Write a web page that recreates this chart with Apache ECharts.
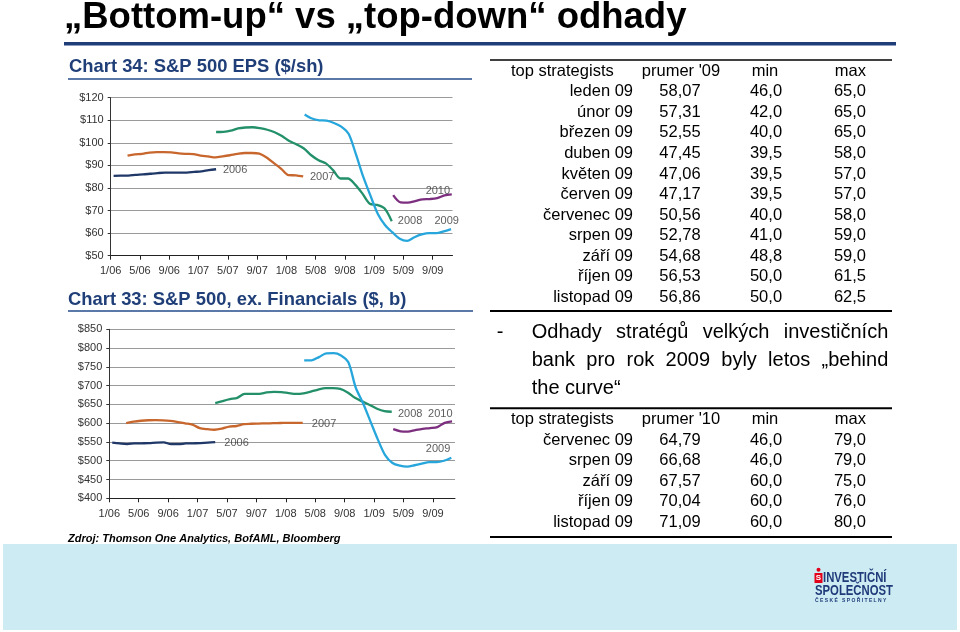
<!DOCTYPE html>
<html>
<head>
<meta charset="utf-8">
<script src="https://cdn.jsdelivr.net/npm/echarts@6/dist/echarts.min.js"></script>
<style>
html,body{margin:0;padding:0;background:#fff;}
#main{width:960px;height:632px;}
</style>
</head>
<body>
<div id="main"></div>
<script>
// ---------- DATA ----------
const tickLabels = ['1/06','5/06','9/06','1/07','5/07','9/07','1/08','5/08','9/08','1/09','5/09','9/09'];
const seriesYears = ['2006','2007','2008','2009','2010'];
// first month position (months since 1/06) of each series
const seriesStart = [0.4, 2.3, 14.4, 26.5, 38.6];

// Chart 34: S&P 500 EPS ($/sh) - monthly estimates
const eps2006 = [85.4,85.5,85.5,85.8,86.0,86.3,86.6,86.8,86.8,86.8,86.8,87.1,87.4,87.9,88.3];
const eps2007 = [94.3,94.9,95.1,95.7,95.9,95.9,95.8,95.3,95.1,95.0,94.3,94.0,93.6,94.0,94.5,95.1,95.5,95.5,95.2,93.5,91.0,88.5,85.7,85.6,85.1];
const eps2008 = [104.8,104.9,105.4,106.4,106.8,106.9,106.5,105.8,104.7,103.0,100.8,99.3,97.5,94.5,92.3,90.9,87.8,84.2,84.2,81.5,77.5,73.0,72.5,71.0,65.3];
const eps2009 = [112.6,110.8,110.0,109.8,108.8,107.2,104.0,95.0,85.0,76.5,68.5,63.5,60.3,57.5,56.6,58.2,59.4,60.0,60.0,60.8,61.8];
const eps2010 = [76.8,73.6,73.5,74.2,75.0,75.1,75.5,76.7,77.2];

// Chart 33: S&P 500 ex. Financials ($, b)
const exf2006 = [548,546,544.5,546,546.5,547,548.5,549,544,544,546,546.5,547,548,549.5];
const exf2007 = [600,604,606.5,607.8,608,607.5,606,603,599.5,596,587,584,582.5,585.5,591,592.5,597.5,598.5,599,599.5,600,600.5,601,601,601];
const exf2008 = [653.5,659,664,667.5,678,678.2,678.2,682,683.3,682.8,680,678,679.5,684,689.5,693.5,693.5,691.2,682,667.5,658,648.5,638.5,632,630.5];
const exf2009 = [767,767.5,776,786,786.5,780.5,762,695,653,605,557,515,494,487,484.6,488,492.5,496.4,496.4,500,508];
const exf2010 = [584,578.5,577.5,581.5,585,587,589.5,601,605];

// year label positions (month, value)
const label34X = [17.0, 28.9, 40.9, 45.9, 44.7];
const label34Y = [88.0, 84.9, 65.4, 65.4, 78.7];
const label33X = [17.3, 29.2, 40.9, 44.7, 45.0];
const label33Y = [547.3, 598, 625.3, 530.5, 625.3];

// Tables
const t1Header = ['top strategists', "prumer '09", 'min', 'max'];
const t1Rows = ['leden 09','únor 09','březen 09','duben 09','květen 09','červen 09','červenec 09','srpen 09','září 09','říjen 09','listopad 09'];
const t1Avg = [58.07,57.31,52.55,47.45,47.06,47.17,50.56,52.78,54.68,56.53,56.86];
const t1Min = [46.0,42.0,40.0,39.5,39.5,39.5,40.0,41.0,48.8,50.0,50.0];
const t1Max = [65.0,65.0,65.0,58.0,57.0,57.0,58.0,59.0,59.0,61.5,62.5];

const t2Header = ['top strategists', "prumer '10", 'min', 'max'];
const t2Rows = ['červenec 09','srpen 09','září 09','říjen 09','listopad 09'];
const t2Avg = [64.79,66.68,67.57,70.04,71.09];
const t2Min = [46.0,46.0,60.0,60.0,60.0];
const t2Max = [79.0,79.0,75.0,76.0,80.0];

const paraLines = [
  ['Odhady','stratégů','velkých','investičních'],
  ['bank','pro','rok','2009','byly','letos','„behind'],
  ['the curve“']
];

// ---------- RENDER ----------
const FF = '"Liberation Sans", Arial, Helvetica, sans-serif';
const colors = ['#1f3868', '#c8672d', '#23906a', '#27a6dc', '#7d2f7f'];
const chart = echarts.init(document.getElementById('main'), null, {renderer: 'canvas'});
const tickValues = tickLabels.map((_, i) => i * 4);
const fmtNum = (v, d) => v.toFixed(d).replace('.', ',');

function mkX(gi, max) {
  return {
    type: 'value', gridIndex: gi, min: 0, max: max,
    axisLine: {show: true, lineStyle: {color: '#222', width: 1}},
    axisTick: {show: true, length: 4, customValues: tickValues, lineStyle: {color: '#222'}},
    axisLabel: {customValues: tickValues, formatter: v => tickLabels[Math.round(v / 4)] || '',
      fontSize: 11, color: '#333', fontFamily: FF, margin: 10},
    splitLine: {show: false}
  };
}
function mkY(gi, min, max, interval) {
  return {
    type: 'value', gridIndex: gi, min, max, interval,
    axisLine: {show: true, lineStyle: {color: '#333', width: 1}},
    axisTick: {show: true, length: 3, lineStyle: {color: '#333'}},
    axisLabel: {formatter: v => '$' + v, fontSize: 11, color: '#333', fontFamily: FF, margin: 7},
    splitLine: {show: true, lineStyle: {color: '#9a9a9a', width: 1}}
  };
}
function lineSeries(gi, idx, vals) {
  return {
    type: 'line', xAxisIndex: gi, yAxisIndex: gi, name: seriesYears[idx] + '_' + gi,
    data: vals.map((v, i) => [seriesStart[idx] + i, v]),
    showSymbol: false, smooth: 0.3,
    lineStyle: {color: colors[idx], width: 2.3}, itemStyle: {color: colors[idx]},
    silent: true, z: 3
  };
}
function labelSeries(gi, xs, ys) {
  return {
    type: 'scatter', xAxisIndex: gi, yAxisIndex: gi, symbolSize: 0, silent: true, z: 5,
    data: seriesYears.map((n, i) => ({name: n, value: [xs[i], ys[i]]})),
    label: {show: true, position: 'inside', formatter: '{b}', fontSize: 11, color: '#333', fontFamily: FF}
  };
}

const G = [];
function txt(x, y, text, font, align, color, z, sx) {
  const el = {type: 'text', z: z || 10, style: {text, x, y, font, fill: color || '#000',
    align: align || 'left', textAlign: align || 'left', verticalAlign: 'middle', textVerticalAlign: 'middle'}};
  if (sx) { el.scaleX = sx; el.originX = x; el.originY = y; }
  G.push(el);
}
function rect(x, y, w, h, color, z) {
  G.push({type: 'rect', z: z || 5, shape: {x, y, width: w, height: h}, style: {fill: color}});
}

// background band
rect(3, 544, 954, 86, '#cdebf3', 1);
// main title
txt(64, 18, '„Bottom-up“ vs „top-down“ odhady', 'bold 36.5px ' + FF, 'left', '#000');
rect(64, 42, 832, 3.5, '#1f3d78');
// chart titles
txt(69, 67, 'Chart 34: S&P 500 EPS ($/sh)', 'bold 18.4px ' + FF, 'left', '#203f78');
rect(68, 78, 404, 2, '#5a79a8');
txt(68, 299.5, 'Chart 33: S&P 500, ex. Financials ($, b)', 'bold 18.4px ' + FF, 'left', '#203f78');
rect(68, 310, 405, 2, '#5a79a8');
// source
txt(68, 538.5, 'Zdroj: Thomson One Analytics, BofAML, Bloomberg', 'italic bold 11px ' + FF, 'left', '#000');

// tables
const tFont = '16.5px ' + FF;
function table(header, rows, avg, mn, mx, headerY, rowY0, step) {
  txt(511, headerY, header[0], tFont, 'left');
  txt(681, headerY, header[1], tFont, 'center');
  txt(765, headerY, header[2], tFont, 'center');
  txt(866, headerY, header[3], tFont, 'right');
  rows.forEach((r, i) => {
    const y = rowY0 + i * step;
    txt(633, y, r, tFont, 'right');
    txt(680, y, fmtNum(avg[i], 2), tFont, 'center');
    txt(766, y, fmtNum(mn[i], 1), tFont, 'center');
    txt(866, y, fmtNum(mx[i], 1), tFont, 'right');
  });
}
table(t1Header, t1Rows, t1Avg, t1Min, t1Max, 71, 91.8, 20.56);
rect(490, 59.3, 402, 1.5, '#000');
rect(490, 310, 402, 2, '#000');
table(t2Header, t2Rows, t2Avg, t2Min, t2Max, 419.5, 440.2, 20.55);
rect(490, 407.3, 402, 2, '#000');
rect(490, 536, 402, 2, '#000');

// paragraph (justified)
const pFont = '20px ' + FF;
const mctx = document.createElement('canvas').getContext('2d');
mctx.font = pFont;
txt(500, 332.7, '-', pFont, 'center');
const pLeft = 531.7, pRight = 888.3, pYs = [332.7, 360.7, 388.3];
paraLines.forEach((words, li) => {
  if (words.length === 1) { txt(pLeft, pYs[li], words[0], pFont, 'left'); return; }
  const widths = words.map(w => mctx.measureText(w).width);
  const total = widths.reduce((a, b) => a + b, 0);
  const gap = (pRight - pLeft - total) / (words.length - 1);
  let x = pLeft;
  words.forEach((w, i) => { txt(x, pYs[li], w, pFont, 'left'); x += widths[i] + gap; });
});

// logo
G.push({type: 'circle', z: 6, shape: {cx: 818.5, cy: 569.8, r: 2}, style: {fill: '#e2001a'}});
rect(814.5, 573, 8, 10, '#e2001a', 6);
txt(818.5, 578.2, 'S', 'bold 8px ' + FF, 'center', '#fff', 7);
txt(823, 578, 'INVESTIČNÍ', 'bold 14.5px ' + FF, 'left', '#1f3b7a', 10, 0.78);
txt(815, 591, 'SPOLEČNOST', 'bold 14.5px ' + FF, 'left', '#1f3b7a', 10, 0.78);
txt(815, 600.5, 'Č E S K É   S P O Ř I T E L N Y', 'bold 5px ' + FF, 'left', '#1f3b7a');

const option = {
  animation: false,
  backgroundColor: '#ffffff',
  grid: [
    {left: 110.7, top: 97.7, width: 341.8, height: 158},
    {left: 109.3, top: 329.3, width: 345.7, height: 169}
  ],
  xAxis: [mkX(0, 46.7), mkX(1, 47.0)],
  yAxis: [mkY(0, 50, 120, 10), mkY(1, 400, 850, 50)],
  series: [
    lineSeries(0, 0, eps2006), lineSeries(0, 1, eps2007), lineSeries(0, 2, eps2008),
    lineSeries(0, 3, eps2009), lineSeries(0, 4, eps2010),
    lineSeries(1, 0, exf2006), lineSeries(1, 1, exf2007), lineSeries(1, 2, exf2008),
    lineSeries(1, 3, exf2009), lineSeries(1, 4, exf2010),
    labelSeries(0, label34X, label34Y),
    labelSeries(1, label33X, label33Y)
  ],
  graphic: G
};
chart.setOption(option);
</script>
</body>
</html>
